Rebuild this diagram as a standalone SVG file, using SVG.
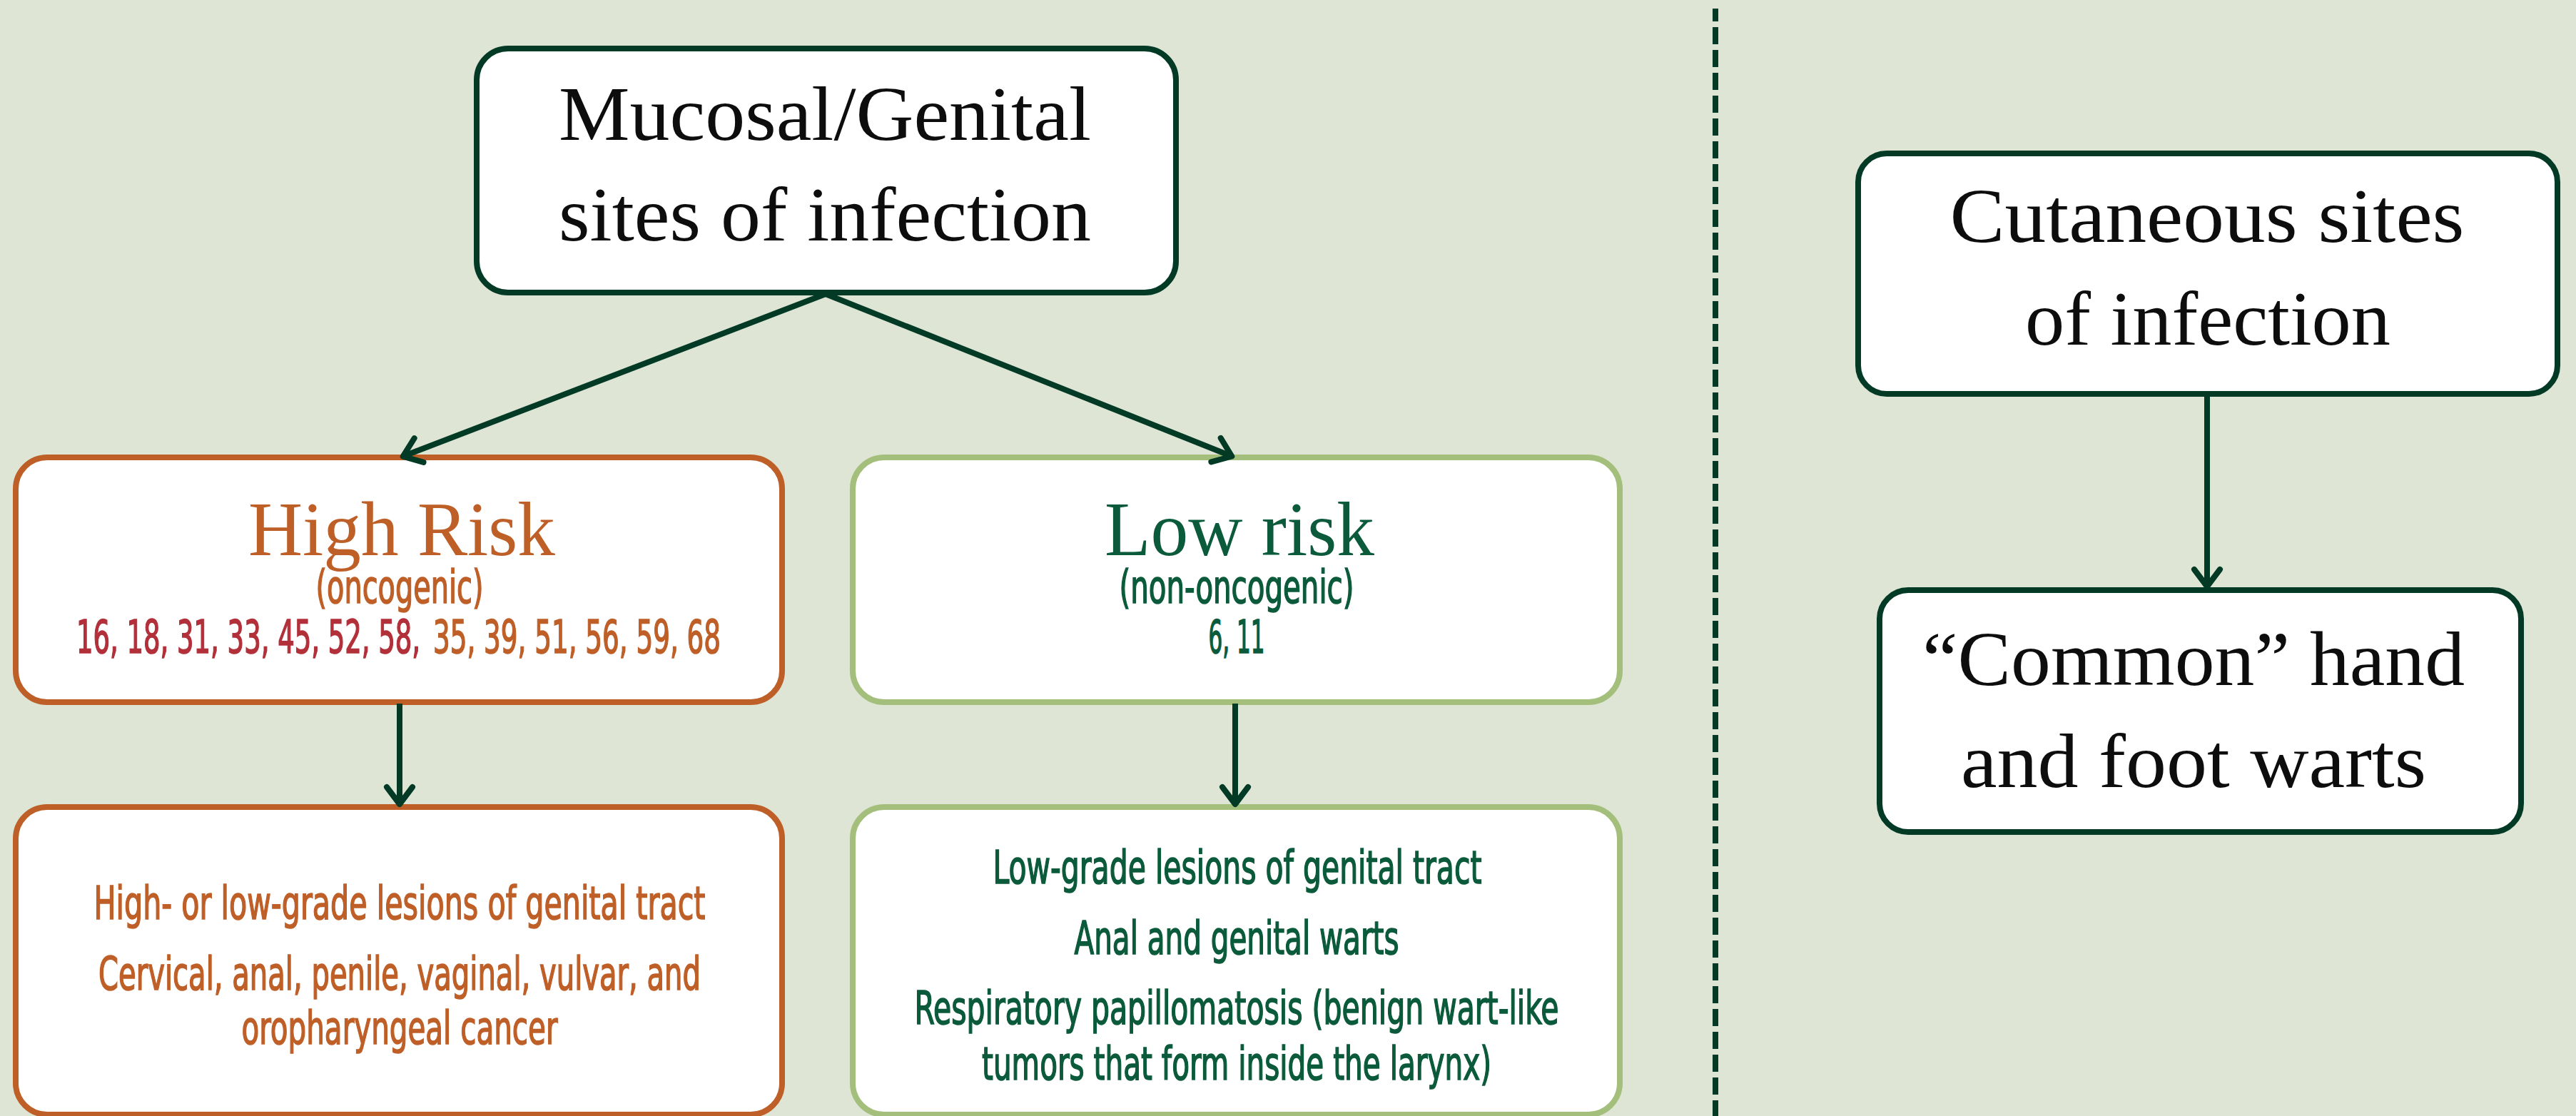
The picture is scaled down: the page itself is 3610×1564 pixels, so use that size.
<svg xmlns="http://www.w3.org/2000/svg" width="3610" height="1564" viewBox="0 0 3610 1564">
<style>
.bg{fill:#dee5d5}
.box{fill:#ffffff;stroke-width:8}
.dk{stroke:#023a25}
.or{stroke:#bf5f28}
.lg{stroke:#a3bf7b}
.serif{font-family:"Liberation Serif","DejaVu Serif",serif;text-anchor:middle}
.big{font-size:108px;fill:#0d0d0d}
.cond{font-family:"Liberation Sans Narrow","DejaVu Sans Condensed","Liberation Sans",sans-serif;font-size:64px;stroke-width:1.6}
.mid{text-anchor:middle}
.st{text-anchor:start}
.orT{fill:#bf5f28}
.cond.orT{stroke:#bf5f28}
.redT{fill:#b2303a;stroke:#b2303a}
.grT{fill:#0b5a3b}
.cond.grT{stroke:#0b5a3b}
.conn{fill:none;stroke:#023a25;stroke-width:8;stroke-linecap:butt}
</style>
<defs>
<marker id="ah" markerUnits="userSpaceOnUse" viewBox="-40 -30 50 60" markerWidth="50" markerHeight="60" refX="0" refY="0" orient="auto" overflow="visible">
<path d="M-24,-18 L0,0 L-24,18" fill="none" stroke="#023a25" stroke-width="8" stroke-linecap="round" stroke-linejoin="round"/>
</marker>
</defs>
<rect class="bg" x="0" y="0" width="3610" height="1564"/>

<g id="divider">
<line x1="2404" y1="12" x2="2404" y2="1564" stroke="#023a25" stroke-width="8" stroke-dasharray="24 8" stroke-dashoffset="6"/>
</g>

<g id="node-mucosal">
<rect class="box dk" x="668" y="68" width="980" height="342" rx="44" ry="44"/>
<text class="serif big" x="1156" y="196" textLength="746" lengthAdjust="spacingAndGlyphs">Mucosal/Genital</text>
<text class="serif big" x="1156" y="337" textLength="746" lengthAdjust="spacingAndGlyphs">sites of infection</text>
</g>

<g id="node-high-risk">
<rect class="box or" x="22" y="641" width="1074" height="343" rx="44" ry="44"/>
<text class="serif orT" font-size="108" x="563" y="778" textLength="430" lengthAdjust="spacingAndGlyphs">High Risk</text>
<text class="cond mid orT" font-size="62" x="560" y="845" textLength="235" lengthAdjust="spacingAndGlyphs">(oncogenic)</text>
<text class="cond st redT" x="107" y="915" textLength="482" lengthAdjust="spacingAndGlyphs">16, 18, 31, 33, 45, 52, 58,</text>
<text class="cond st orT" x="607" y="915" textLength="403" lengthAdjust="spacingAndGlyphs">35, 39, 51, 56, 59, 68</text>
</g>

<g id="node-low-risk">
<rect class="box lg" x="1195" y="641" width="1075" height="343" rx="44" ry="44"/>
<text class="serif grT" font-size="108" x="1737" y="778" textLength="378" lengthAdjust="spacingAndGlyphs">Low risk</text>
<text class="cond mid grT" font-size="62" x="1733" y="845" textLength="329" lengthAdjust="spacingAndGlyphs">(non-oncogenic)</text>
<text class="cond mid grT" x="1733" y="915" textLength="79" lengthAdjust="spacingAndGlyphs">6, 11</text>
</g>

<g id="node-high-outcomes">
<rect class="box or" x="22" y="1131" width="1074" height="431" rx="44" ry="44"/>
<text class="cond mid orT" x="560" y="1288" textLength="857" lengthAdjust="spacingAndGlyphs">High- or low-grade lesions of genital tract</text>
<text class="cond mid orT" x="560" y="1387" textLength="844" lengthAdjust="spacingAndGlyphs">Cervical, anal, penile, vaginal, vulvar, and</text>
<text class="cond mid orT" x="560" y="1463" textLength="443" lengthAdjust="spacingAndGlyphs">oropharyngeal cancer</text>
</g>

<g id="node-low-outcomes">
<rect class="box lg" x="1195" y="1131" width="1075" height="431" rx="44" ry="44"/>
<text class="cond mid grT" x="1734" y="1238" textLength="685" lengthAdjust="spacingAndGlyphs">Low-grade lesions of genital tract</text>
<text class="cond mid grT" x="1733" y="1337" textLength="455" lengthAdjust="spacingAndGlyphs">Anal and genital warts</text>
<text class="cond mid grT" x="1733" y="1435" textLength="903" lengthAdjust="spacingAndGlyphs">Respiratory papillomatosis (benign wart-like</text>
<text class="cond mid grT" x="1733" y="1513" textLength="714" lengthAdjust="spacingAndGlyphs">tumors that form inside the larynx)</text>
</g>

<g id="node-cutaneous">
<rect class="box dk" x="2604" y="215" width="980" height="337" rx="40" ry="40"/>
<text class="serif big" x="3093" y="339" textLength="721" lengthAdjust="spacingAndGlyphs">Cutaneous sites</text>
<text class="serif big" x="3094" y="483" textLength="512" lengthAdjust="spacingAndGlyphs">of infection</text>
</g>

<g id="node-common-warts">
<rect class="box dk" x="2634" y="827" width="899" height="339" rx="40" ry="40"/>
<text class="serif big" x="3074" y="960" textLength="760" lengthAdjust="spacingAndGlyphs">“Common” hand</text>
<text class="serif big" x="3074" y="1103" textLength="652" lengthAdjust="spacingAndGlyphs">and foot warts</text>
</g>

<g id="connectors">
<line class="conn" x1="1157" y1="412" x2="564.7" y2="639.6" marker-end="url(#ah)"/>
<line class="conn" x1="1157" y1="412" x2="1726.3" y2="639.5" marker-end="url(#ah)"/>
<line class="conn" x1="560" y1="986" x2="560" y2="1127" marker-end="url(#ah)"/>
<line class="conn" x1="1731" y1="986" x2="1731" y2="1127" marker-end="url(#ah)"/>
<line class="conn" x1="3093" y1="554" x2="3093" y2="822" marker-end="url(#ah)"/>
</g>
</svg>
